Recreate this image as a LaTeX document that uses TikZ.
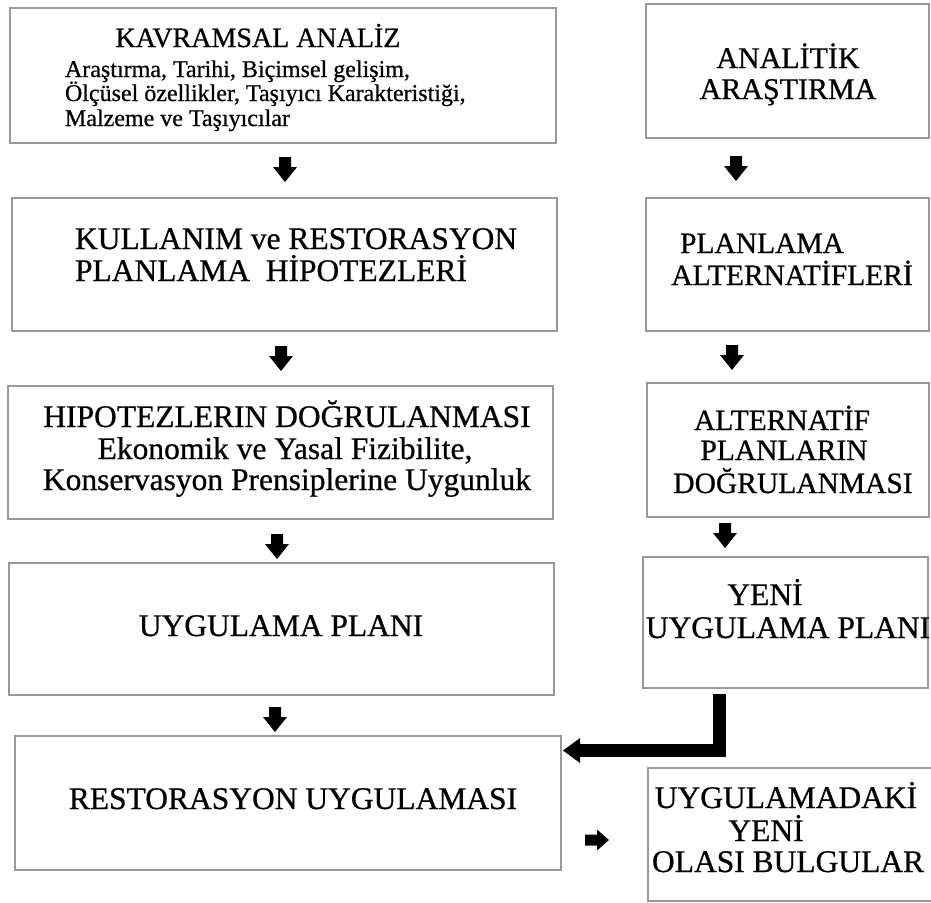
\documentclass[tikz,border=0pt]{standalone}
\usepackage{fontspec}
\setmainfont{Liberation Serif}
\newfontfamily\labelfont[FakeBold=0.7]{Liberation Serif}
\usetikzlibrary{arrows.meta}

\tikzset{
  box/.style={draw=black!40, line width=1.1pt, rectangle, inner sep=0pt, outer sep=0pt},
  txt/.style={inner sep=0pt, outer sep=0pt, anchor=base, text=black},
  huge/.style={txt, font=\labelfont\fontsize{31.5}{31.5}\selectfont},
  mid/.style={txt, font=\labelfont\fontsize{30}{30}\selectfont},
  slim/.style={txt, font=\labelfont\fontsize{29.5}{29.5}\selectfont},
  head/.style={txt, font=\labelfont\fontsize{28}{28}\selectfont},
  small/.style={txt, anchor=base west, font=\labelfont\fontsize{24}{24}\selectfont},
  dnarrow/.pic={\fill[black] (-6,0) -- (6,0) -- (6,10) -- (12,10) -- (0,25) -- (-12,10) -- (-6,10) -- cycle;},
  rtarrow/.pic={\fill[black] (0,-5.5) -- (12,-5.5) -- (12,-10.5) -- (24,0) -- (12,10.5) -- (12,5.5) -- (0,5.5) -- cycle;},
  bendarrow/.style={draw=black, line width=12.5pt, line join=miter,
    -{Triangle[length=17pt,width=25pt,line width=0pt]}}
}

\begin{document}
\begin{tikzpicture}[x=1pt,y=-1pt]
\useasboundingbox (0,0) rectangle (931,902);

% left column
\node[box, minimum width=546pt, minimum height=135pt] (kavram)   at (283,75.5) {};
\node[box, minimum width=545pt, minimum height=133pt] (kullanim) at (284.5,264.5) {};
\node[box, minimum width=545pt, minimum height=133pt] (hipotez)  at (280.5,452.5) {};
\node[box, minimum width=545pt, minimum height=132pt] (uygplan)  at (281.5,629) {};
\node[box, minimum width=546pt, minimum height=134pt] (restor)   at (288,803) {};

% right column
\node[box, minimum width=283pt, minimum height=134pt] (analitik) at (787.5,71) {};
\node[box, minimum width=283pt, minimum height=133pt] (planalt)  at (787.5,264.5) {};
\node[box, minimum width=282pt, minimum height=134pt] (altdog)   at (788,450) {};
\node[box, minimum width=285pt, minimum height=131pt] (yeniplan) at (785.5,622.5) {};
\node[box, minimum width=297pt, minimum height=133pt] (bulgular) at (796.5,834.5) {};

% texts, left column
\node[head]  (t1)  at (258,47)  {KAVRAMSAL ANALİZ};
\node[small] (t1a) at (65,77)   {Araştırma, Tarihi, Biçimsel gelişim,};
\node[small] (t1b) at (65,101)  {Ölçüsel özellikler, Taşıyıcı Karakteristiği,};
\node[small] (t1c) at (65,126)  {Malzeme ve Taşıyıcılar};

\node[huge, anchor=base west] (t2a) at (75,249) {KULLANIM ve RESTORASYON};
\node[huge, anchor=base west] (t2b) at (75,281) {PLANLAMA\ \ HİPOTEZLERİ};

\node[huge] (t3a) at (287,427) {HIPOTEZLERIN DOĞRULANMASI};
\node[huge] (t3b) at (285,459) {Ekonomik ve Yasal Fizibilite,};
\node[huge] (t3c) at (287,490) {Konservasyon Prensiplerine Uygunluk};

\node[huge] (t4) at (281,636) {UYGULAMA PLANI};
\node[huge] (t5) at (293,809) {RESTORASYON UYGULAMASI};

% texts, right column
\node[mid] (r1a) at (788,68) {ANALİTİK};
\node[mid] (r1b) at (788,99) {ARAŞTIRMA};

\node[slim] (r2a) at (762,253) {PLANLAMA};
\node[slim] (r2b) at (792,285) {ALTERNATİFLERİ};

\node[slim] (r3a) at (782,430) {ALTERNATİF};
\node[slim] (r3b) at (784,460) {PLANLARIN};
\node[slim] (r3c) at (793,493) {DOĞRULANMASI};

\node[huge] (r4a) at (765,605) {YENİ};
\node[huge] (r4b) at (788,638) {UYGULAMA PLANI};

\node[huge] (r5a) at (786,808) {UYGULAMADAKİ};
\node[huge] (r5b) at (766,841) {YENİ};
\node[huge, anchor=base west] (r5c) at (652,872) {OLASI BULGULAR};

% block arrows between the steps
\pic (da1) at (285,157) {dnarrow};
\pic (da2) at (281,346) {dnarrow};
\pic (da3) at (277,534) {dnarrow};
\pic (da4) at (275,707) {dnarrow};
\pic (db1) at (736,156) {dnarrow};
\pic (db2) at (732,345) {dnarrow};
\pic (db3) at (725,523) {dnarrow};
\pic (ra1) at (585,840) {rtarrow};

% new plan feeds back into the restoration work
\draw[bendarrow] ([xshift=76.5pt,yshift=-6pt]yeniplan.south west)
  |- ([xshift=2pt,yshift=-14.5pt]restor.north east);
\end{tikzpicture}
\end{document}
